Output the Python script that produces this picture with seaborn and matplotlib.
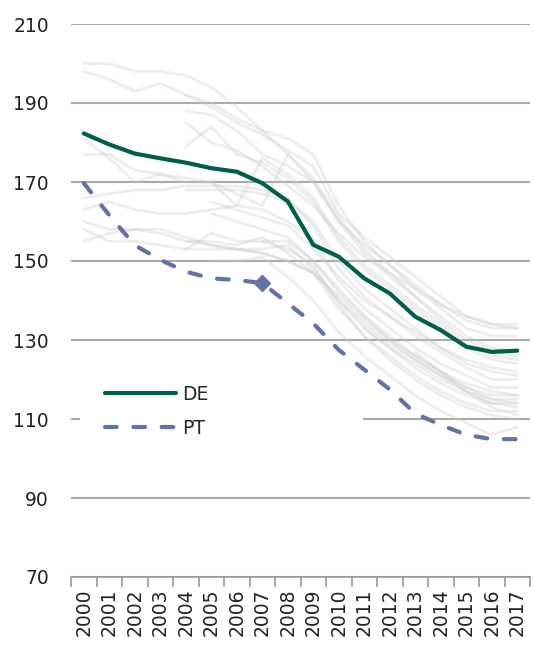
import numpy as np
import pandas as pd
import matplotlib
matplotlib.use("Agg")
import matplotlib.pyplot as plt
import seaborn as sns

years = [str(y) for y in range(2000, 2018)]

de = [182.3, 179.5, 177.2, 176.0, 174.9, 173.5, 172.6, 169.7, 165.1,
      154.1, 151.1, 145.6, 141.8, 135.9, 132.5, 128.3, 127.0, 127.3]
pt = [169.7, 161.6, 154.0, 150.3, 147.3, 145.6, 145.2, 144.4, 139.3,
      134.2, 127.5, 122.5, 117.5, 111.4, 108.5, 106.0, 104.9, 104.9]

nan = np.nan
others = {
    "A": [200, 200, 198, 198, 197, 194, 189, 183, 177, 170, 160, 154, 149, 144, 139, 135, 133, 133],
    "B": [198, 196, 193, 195, 192, 189, 185, 182, 178, 174, 162, 156, 151, 146, 141, 136, 134, 134],
    "C": [nan, nan, nan, nan, 192, 190, 186, 183, 181, 177, 164, 155, 149, 143, 138, 133, 131, 131],
    "D": [nan, nan, nan, nan, 188, 187, 183, 177, 174, 170, 160, 152, 146, 141, 135, 130, 127, 126],
    "E": [nan, nan, nan, nan, 179, 184, 177, 175, 171, 165, 155, 148, 143, 138, 133, 128, 125, 124],
    "F": [181, 176, 170, 172, 171, 170, 167, 164, 177, 171, 161, 153, 147, 141, 136, 131, 128, 127],
    "G": [177, 177, 173, 172, 170, 170, 164, 176, 172, 166, 156, 149, 144, 139, 134, 129, 126, 125],
    "H": [nan, nan, nan, nan, 168, 168, 168, 167, 165, 160, 150, 143, 138, 133, 128, 124, 122, 121],
    "I": [166, 167, 168, 168, 169, 169, 169, 168, 166, 159, 148, 141, 136, 131, 127, 123, 120, 120],
    "J": [163, 165, 163, 162, 162, 163, 164, 163, 160, 155, 145, 138, 133, 128, 124, 121, 118, 118],
    "K": [160, 158, 158, 157, 155, 154, 153, 152, 150, 147, 140, 134, 129, 125, 121, 118, 116, 116],
    "L": [158, 155, 155, 154, 153, 153, 153, 152, 150, 147, 141, 135, 130, 126, 122, 119, 117, 116],
    "M": [155, 157, 158, 158, 156, 154, 153, 153, 154, 148, 140, 133, 128, 124, 120, 117, 114, 114],
    "N": [nan, nan, nan, nan, 153, 157, 155, 155, 155, 150, 143, 136, 130, 125, 121, 117, 115, 114],
    "O": [nan, nan, nan, nan, 155, 155, 154, 156, 152, 147, 138, 131, 126, 121, 117, 114, 112, 112],
    "P": [nan, nan, nan, nan, nan, 150, 150, 151, 146, 140, 132, 126, 121, 116, 112, 109, 106, 108],
    "Q": [nan, nan, nan, nan, nan, nan, nan, nan, nan, nan, nan, 133, 128, 123, 119, 116, 114, 113],
    "R": [nan, nan, nan, nan, nan, 162, 160, 158, 156, 150, 142, 136, 131, 126, 122, 118, 115, 115],
    "S": [nan, nan, nan, nan, nan, nan, nan, nan, nan, nan, nan, nan, nan, 127, 122, 117, 113, 111],
    "T": [nan, nan, nan, nan, nan, nan, nan, 155, 153, 149, 139, 131, 125, 120, 116, 113, 111, 110],
    "U": [nan, nan, nan, nan, 185, 180, 178, 174, 169, 164, 157, 151, 147, 143, 139, 136, 134, 133],
    "V": [nan, nan, nan, nan, nan, 165, 163, 161, 159, 153, 146, 140, 136, 132, 128, 125, 123, 122],
}

rows = []
for name, vals in others.items():
    for i, v in enumerate(vals):
        rows.append({"country": name, "x": i, "value": v})
gray_df = pd.DataFrame(rows).dropna()

de_df = pd.DataFrame({"x": range(len(years)), "value": de})
pt_df = pd.DataFrame({"x": range(len(years)), "value": pt})

sns.set_theme(style="white")
plt.rcParams["font.family"] = ["DejaVu Sans"]

fig = plt.figure(figsize=(5.34, 6.52), dpi=100)
ax = fig.add_axes([71 / 534, 1 - 577 / 652, 459 / 534, 553 / 652])

sns.lineplot(data=gray_df, x="x", y="value", units="country", estimator=None,
             color="#cccccc", alpha=0.35, linewidth=2.0, ax=ax, legend=False)

sns.lineplot(data=de_df, x="x", y="value", color="#005f4b", linewidth=3.0,
             ax=ax, label="DE")
sns.lineplot(data=pt_df, x="x", y="value", color="#6471a6", linewidth=3.0,
             ax=ax, label="PT")
pt_line = ax.lines[-1]
pt_line.set_dashes((2.8, 4.0))
pt_line.set_dash_capstyle("round")
# single highlighted point
ax.plot([7], [pt[7]], marker="D", markersize=8, color="#6471a6", linestyle="none")

ax.set_xlim(-0.5, len(years) - 0.5)
ax.set_ylim(70, 210)
ax.set_yticks(range(70, 211, 20))
ax.set_xticks(range(len(years)))
ax.set_xticklabels(years, rotation=90)
ax.set_xticks(np.arange(-0.5, len(years), 1.0), minor=True)
ax.tick_params(axis="x", which="major", length=0, pad=8, labelsize=13.5, colors="#222222")
ax.tick_params(axis="x", which="minor", length=7, width=1.2, color="#999999", direction="out", bottom=True)
ax.tick_params(axis="y", length=0, pad=16, labelsize=13.5, colors="#222222")
ax.set_xlabel("")
ax.set_ylabel("")

ax.grid(axis="y", color="#aaaaaa", linewidth=1.5)
ax.grid(axis="x", visible=False)
ax.set_axisbelow(True)
for s in ["left", "right", "top"]:
    ax.spines[s].set_visible(False)
ax.spines["bottom"].set_color("#999999")
ax.spines["bottom"].set_linewidth(1.2)

handles, labels = ax.get_legend_handles_labels()
leg = ax.legend(handles[:2], labels[:2], loc="upper left",
                bbox_to_anchor=(0.02, 0.392, 0.616, 0.0), mode="expand",
                frameon=True, facecolor="white", edgecolor="white", framealpha=1,
                fontsize=13.5, handlelength=3.8, handletextpad=0.35, labelspacing=0.8,
                borderpad=1.3, borderaxespad=0.0)
leg.get_frame().set_linewidth(0)
leg.set_zorder(1)

fig.savefig("out.png", dpi=100)
